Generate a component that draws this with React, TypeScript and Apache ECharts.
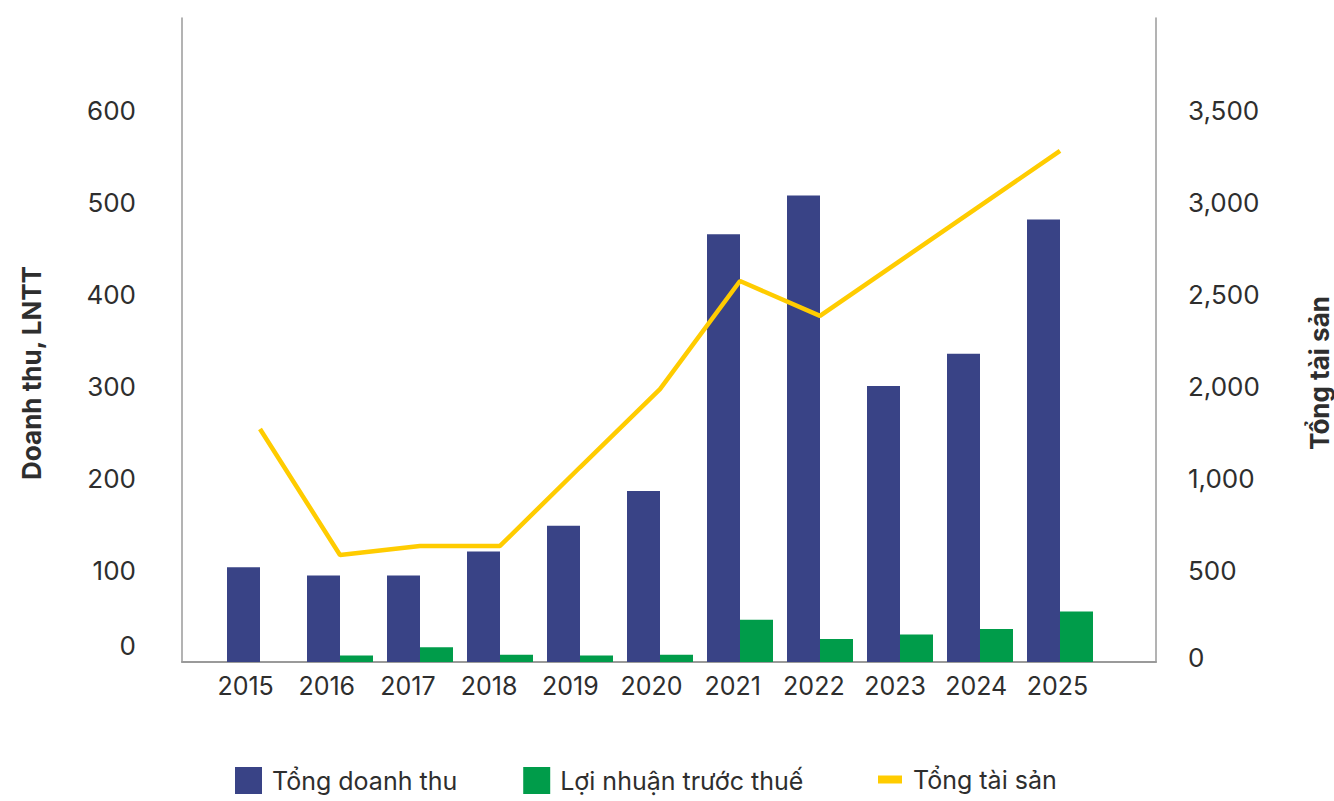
import React, { useEffect, useRef } from "react";
import * as echarts from "echarts";

const years = ["2015", "2016", "2017", "2018", "2019", "2020", "2021", "2022", "2023", "2024", "2025"];
const revenue = [103, 94, 94, 120, 148, 186, 465, 507, 300, 335, 481];
const profit = [0, 7, 16, 8, 7, 8, 46, 25, 30, 36, 55];
const totalAssets = [1520, 698, 757, 757, 1270, 1780, 2485, 2257, 2616, 2975, 3333];
const leftTickLabels = ["0", "100", "200", "300", "400", "500", "600", ""];
const rightTickLabels = ["0", "500", "1,000", "2,000", "2,500", "3,000", "3,500", ""];

const seriesNames = ["Tổng doanh thu", "Lợi nhuận trước thuế", "Tổng tài sản"];
const axisTitles = ["Doanh thu, LNTT", "Tổng tài sản"];

const FONT = "Inter, 'Noto Sans', sans-serif";
const TEXT = "#2e2e2e";
const AXIS = "#9a9a9a";
const FS = 26;

export default function App() {
  const ref = useRef<HTMLDivElement>(null);
  useEffect(() => {
    if (!ref.current) return;
    const chart = echarts.init(ref.current, undefined, { renderer: "svg" });
    const gridTop = 18;
    const gridBottom = 139;
    chart.setOption({
      animation: false,
      backgroundColor: "#ffffff",
      textStyle: { fontFamily: FONT },
      grid: [
        { left: 182, right: 178, top: gridTop, bottom: gridBottom },
        { left: 220, right: 234, top: gridTop, bottom: gridBottom },
        { left: 205, right: 236, top: gridTop, bottom: gridBottom },
      ],
      xAxis: [
        {
          type: "value",
          gridIndex: 0,
          min: 0,
          max: 1,
          axisLine: { show: true, lineStyle: { color: AXIS, width: 2 } },
          axisTick: { show: false },
          axisLabel: { show: false },
          splitLine: { show: false },
        },
        {
          type: "category",
          gridIndex: 1,
          data: years,
          axisLine: { show: false },
          axisTick: { show: false },
          axisLabel: { show: false },
          splitLine: { show: false },
        },
        {
          type: "category",
          gridIndex: 2,
          data: years,
          axisLine: { show: false },
          axisTick: { show: false },
          axisLabel: { color: TEXT, fontSize: 25, fontFamily: FONT, margin: 11, interval: 0 },
          splitLine: { show: false },
        },
      ],
      yAxis: [
        {
          type: "value",
          gridIndex: 0,
          position: "left",
          min: 0,
          max: 700,
          interval: 100,
          axisLine: { show: true, lineStyle: { color: AXIS, width: 1.5 } },
          axisTick: { show: false },
          splitLine: { show: false },
          axisLabel: {
            color: TEXT,
            fontSize: FS,
            fontFamily: FONT,
            margin: 46,
            formatter: (v: number) => {
              const t = leftTickLabels[Math.round(v / 100)] ?? "";
              return v === 0 ? "{z|" + t + "}" : t;
            },
            rich: { z: { color: TEXT, fontSize: FS, fontFamily: FONT, padding: [0, 0, 34, 0] } },
          },
        },
        {
          type: "value",
          gridIndex: 0,
          position: "right",
          min: 0,
          max: 4200,
          interval: 600,
          axisLine: { show: true, lineStyle: { color: AXIS, width: 1.5 } },
          axisTick: { show: false },
          splitLine: { show: false },
          axisLabel: {
            color: TEXT,
            fontSize: FS,
            fontFamily: FONT,
            margin: 32,
            formatter: (v: number) => {
              const t = rightTickLabels[Math.round(v / 600)] ?? "";
              return v === 0 ? "{z|" + t + "}" : t;
            },
            rich: { z: { color: TEXT, fontSize: FS, fontFamily: FONT, padding: [0, 0, 10, 0] } },
          },
        },
        { type: "value", gridIndex: 1, min: 0, max: 700, show: false, splitLine: { show: false } },
        { type: "value", gridIndex: 1, min: 0, max: 4200, show: false, splitLine: { show: false } },
        { type: "value", gridIndex: 2, min: 0, max: 1, show: false, splitLine: { show: false } },
      ],
      legend: [
        {
          data: [seriesNames[0], seriesNames[1]],
          left: 235,
          top: 767,
          padding: 0,
          icon: "rect",
          itemWidth: 27,
          itemHeight: 27,
          itemGap: 66,
          textStyle: { color: TEXT, fontSize: 25, fontFamily: FONT, padding: [0, 0, 0, 5] },
        },
        {
          data: [seriesNames[2]],
          left: 878,
          top: 767,
          padding: 0,
          icon: "rect",
          itemWidth: 24,
          itemHeight: 8,
          textStyle: { color: TEXT, fontSize: 25, fontFamily: FONT, padding: [0, 0, 0, 6] },
        },
      ],
      graphic: [
        {
          type: "text",
          x: 31,
          y: 373,
          rotation: Math.PI / 2,
          style: {
            text: axisTitles[0],
            fill: TEXT,
            font: "bold " + FS + "px " + FONT,
            align: "center",
            verticalAlign: "middle",
          },
        },
        {
          type: "text",
          x: 1319,
          y: 373,
          rotation: Math.PI / 2,
          style: {
            text: axisTitles[1],
            fill: TEXT,
            font: "bold " + FS + "px " + FONT,
            align: "center",
            verticalAlign: "middle",
          },
        },
      ],
      series: [
        {
          name: seriesNames[0],
          type: "bar",
          xAxisIndex: 1,
          yAxisIndex: 2,
          data: revenue,
          barWidth: 33,
          barGap: "0%",
          itemStyle: { color: "#394386" },
        },
        {
          name: seriesNames[1],
          type: "bar",
          xAxisIndex: 1,
          yAxisIndex: 2,
          data: profit,
          barWidth: 33,
          barGap: "0%",
          itemStyle: { color: "#009C4A" },
        },
        {
          name: seriesNames[2],
          type: "line",
          xAxisIndex: 1,
          yAxisIndex: 3,
          data: totalAssets,
          symbol: "none",
          z: 5,
          lineStyle: { color: "#FFCC00", width: 4.5 },
          itemStyle: { color: "#FFCC00" },
        },
      ],
    });
    return () => chart.dispose();
  }, []);
  return (
    <div
      ref={ref}
      style={{ position: "absolute", left: 0, top: 0, width: 1334, height: 801, background: "#fff" }}
    />
  );
}
